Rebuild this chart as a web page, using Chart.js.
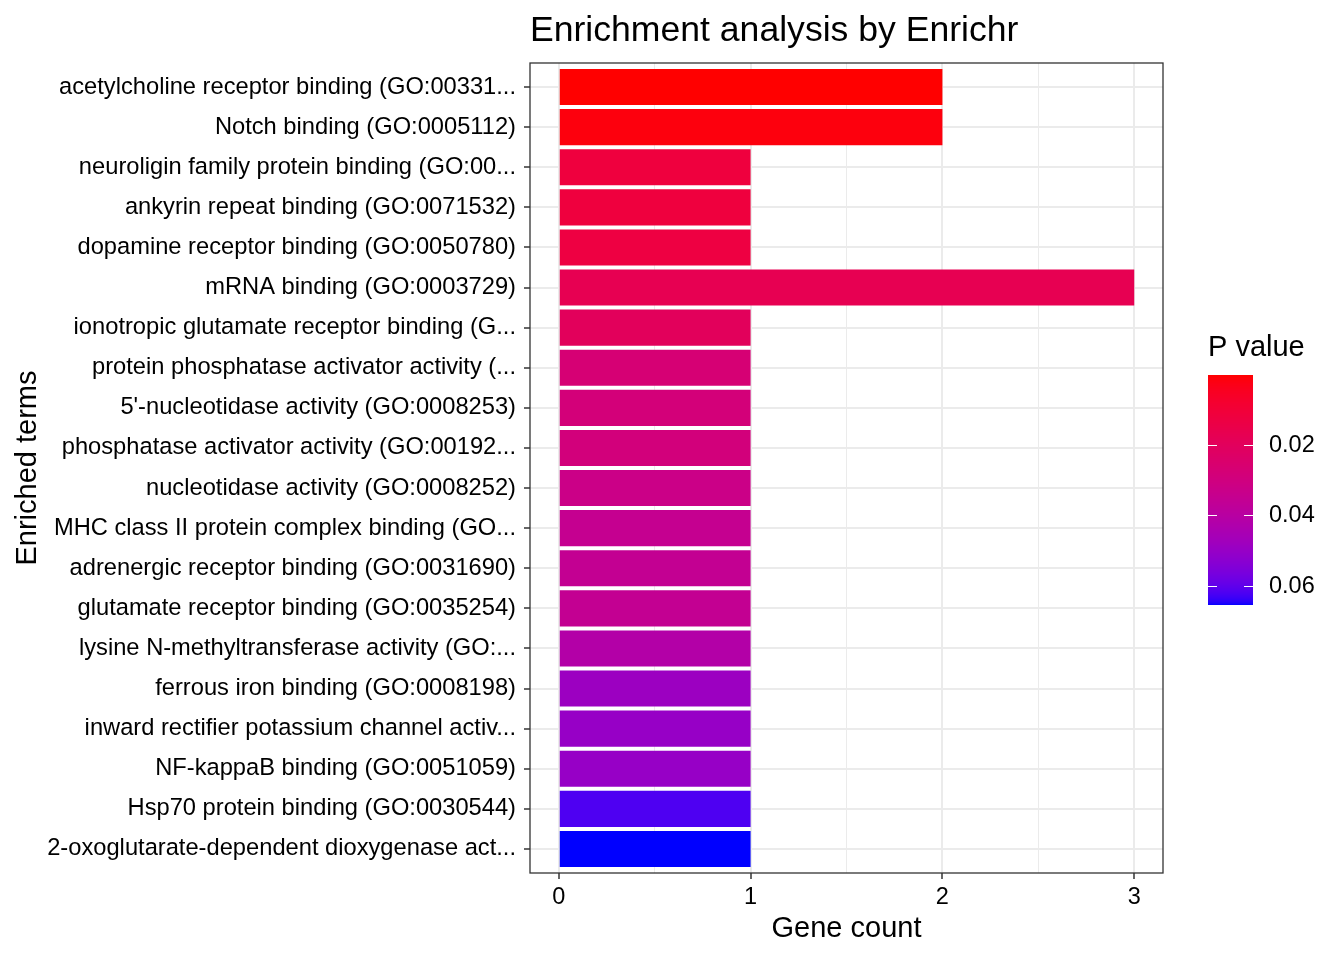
<!DOCTYPE html>
<html>
<head>
<meta charset="utf-8">
<script src="https://cdn.jsdelivr.net/npm/chart.js@4.4.1/dist/chart.umd.min.js"></script>
<style>
  html, body { margin: 0; padding: 0; background: #fff; }
  #wrap { width: 1344px; height: 960px; position: relative; }
</style>
</head>
<body>
<div id="wrap"><canvas id="enrichChart"></canvas></div>
<script>
const FONT = '"Liberation Sans", Arial, Helvetica, sans-serif';

// Terms top to bottom, as in the picture
const terms = [
  "acetylcholine receptor binding (GO:00331...",
  "Notch binding (GO:0005112)",
  "neuroligin family protein binding (GO:00...",
  "ankyrin repeat binding (GO:0071532)",
  "dopamine receptor binding (GO:0050780)",
  "mRNA binding (GO:0003729)",
  "ionotropic glutamate receptor binding (G...",
  "protein phosphatase activator activity (...",
  "5'-nucleotidase activity (GO:0008253)",
  "phosphatase activator activity (GO:00192...",
  "nucleotidase activity (GO:0008252)",
  "MHC class II protein complex binding (GO...",
  "adrenergic receptor binding (GO:0031690)",
  "glutamate receptor binding (GO:0035254)",
  "lysine N-methyltransferase activity (GO:...",
  "ferrous iron binding (GO:0008198)",
  "inward rectifier potassium channel activ...",
  "NF-kappaB binding (GO:0051059)",
  "Hsp70 protein binding (GO:0030544)",
  "2-oxoglutarate-dependent dioxygenase act..."
];
const geneCounts = [2, 2, 1, 1, 1, 3, 1, 1, 1, 1, 1, 1, 1, 1, 1, 1, 1, 1, 1, 1];
const pValues = [0.0002, 0.0015, 0.0117, 0.0117, 0.0127, 0.0173, 0.0199, 0.0270, 0.0285, 0.0290,
                 0.0324, 0.0350, 0.0357, 0.0357, 0.0416, 0.0488, 0.0501, 0.0501, 0.0620, 0.0655];
const xTickLabels = [0, 1, 2, 3];
const legendTicks = [0.02, 0.04, 0.06];

const pMin = Math.min(...pValues);
const pMax = Math.max(...pValues);

// red -> blue gradient interpolated in Lab, like scale_fill_gradient
function toLin(c) { c /= 255; return c <= 0.04045 ? c / 12.92 : Math.pow((c + 0.055) / 1.055, 2.4); }
function toSrgb(c) { c = c <= 0.0031308 ? 12.92 * c : 1.055 * Math.pow(c, 1 / 2.4) - 0.055; return Math.round(Math.min(1, Math.max(0, c)) * 255); }
function rgbToLab(rgb) {
  const [r, g, b] = rgb.map(toLin);
  const x = (0.4124564 * r + 0.3575761 * g + 0.1804375 * b) / 0.95047;
  const y = 0.2126729 * r + 0.7151522 * g + 0.0721750 * b;
  const z = (0.0193339 * r + 0.1191920 * g + 0.9503041 * b) / 1.08883;
  const f = t => t > 0.008856 ? Math.cbrt(t) : 7.787 * t + 16 / 116;
  const fx = f(x), fy = f(y), fz = f(z);
  return [116 * fy - 16, 500 * (fx - fy), 200 * (fy - fz)];
}
function labToRgb([L, a, b]) {
  const fy = (L + 16) / 116, fx = fy + a / 500, fz = fy - b / 200;
  const inv = t => t * t * t > 0.008856 ? t * t * t : (t - 16 / 116) / 7.787;
  const x = inv(fx) * 0.95047, y = inv(fy), z = inv(fz) * 1.08883;
  const r = 3.2404542 * x - 1.5371385 * y - 0.4985314 * z;
  const g = -0.9692660 * x + 1.8760108 * y + 0.0415560 * z;
  const bl = 0.0556434 * x - 0.2040259 * y + 1.0572252 * z;
  return [toSrgb(r), toSrgb(g), toSrgb(bl)];
}
const labLow = rgbToLab([255, 0, 0]);
const labHigh = rgbToLab([0, 0, 255]);
function pColor(p) {
  const t = Math.min(1, Math.max(0, (p - pMin) / (pMax - pMin)));
  const lab = labLow.map((v, i) => v + (labHigh[i] - v) * t);
  const [r, g, b] = labToRgb(lab);
  return `rgb(${r},${g},${b})`;
}

// panel border, title and colour bar legend
const decor = {
  id: "decor",
  afterDraw(chart) {
    const { ctx, chartArea: a } = chart;
    ctx.save();
    ctx.strokeStyle = "#333333";
    ctx.lineWidth = 1.3;
    ctx.strokeRect(a.left, a.top, a.right - a.left, a.bottom - a.top);

    ctx.fillStyle = "#000";
    ctx.textBaseline = "middle";
    ctx.textAlign = "left";
    ctx.font = `35.6px ${FONT}`;
    ctx.fillText("Enrichment analysis by Enrichr", a.left, 31);

    // colour bar
    const bx = 1208, by = 375, bw = 45, bh = 230;
    ctx.font = `29px ${FONT}`;
    ctx.fillText("P value", bx, 348);
    for (let i = 0; i < bh; i++) {
      ctx.fillStyle = pColor(pMin + (pMax - pMin) * (i + 0.5) / bh);
      ctx.fillRect(bx, by + i, bw, 1);
    }
    ctx.font = `23.5px ${FONT}`;
    ctx.strokeStyle = "#fff";
    ctx.lineWidth = 1;
    legendTicks.forEach(v => {
      const y = Math.round(by + (v - pMin) / (pMax - pMin) * bh) + 0.5;
      ctx.beginPath();
      ctx.moveTo(bx, y); ctx.lineTo(bx + 9, y);
      ctx.moveTo(bx + bw - 9, y); ctx.lineTo(bx + bw, y);
      ctx.stroke();
      ctx.fillStyle = "#000";
      ctx.fillText(v.toFixed(2), 1269, y);
    });
    ctx.restore();
  }
};

new Chart(document.getElementById("enrichChart"), {
  type: "bar",
  data: {
    labels: terms,
    datasets: [{
      label: "Gene count",
      data: geneCounts,
      backgroundColor: pValues.map(pColor),
      borderWidth: 0,
      barPercentage: 0.9,
      categoryPercentage: 1.0
    }]
  },
  options: {
    indexAxis: "y",
    responsive: true,
    maintainAspectRatio: false,
    animation: false,
    layout: { padding: { top: 63, right: 181, left: 0, bottom: 0 } },
    plugins: { legend: { display: false }, tooltip: { enabled: false } },
    scales: {
      x: {
        type: "linear",
        min: -0.15,
        max: 3.15,
        afterFit: s => { s.height = 87; },
        border: { display: false },
        grid: {
          color: "#EBEBEB",
          lineWidth: c => Number.isInteger(c.tick.value) ? 2 : 1,
          tickColor: c => Number.isInteger(c.tick.value) ? "#333333" : "rgba(0,0,0,0)",
          tickWidth: 1.5,
          tickLength: 6
        },
        ticks: {
          stepSize: 0.5,
          includeBounds: false,
          maxRotation: 0,
          autoSkip: false,
          padding: 4,
          color: "#000",
          font: { family: FONT, size: 23.5 },
          callback: v => xTickLabels.includes(v) ? String(v) : ""
        },
        title: {
          display: true,
          text: "Gene count",
          color: "#000",
          font: { family: FONT, size: 29, lineHeight: 1.2 },
          padding: { top: 0, bottom: 14 }
        }
      },
      y: {
        type: "category",
        // ggplot keeps 0.6 of a category as room at each end
        afterBuildTicks: s => {
          s._startValue = s.min - 0.6;
          s._valueRange = s.max - s.min + 1.2;
        },
        afterFit: s => { s.width = 530; },
        border: { display: false },
        grid: {
          offset: false,
          color: "#EBEBEB",
          lineWidth: 2,
          tickColor: "#333333",
          tickWidth: 1.5,
          tickLength: 6
        },
        ticks: {
          autoSkip: false,
          padding: 8,
          color: "#000",
          font: { family: FONT, size: 23.7 }
        },
        title: {
          display: true,
          text: "Enriched terms",
          color: "#000",
          font: { family: FONT, size: 29, lineHeight: 1.2 },
          padding: { top: 11, bottom: 0 }
        }
      }
    }
  },
  plugins: [decor]
});
</script>
</body>
</html>
